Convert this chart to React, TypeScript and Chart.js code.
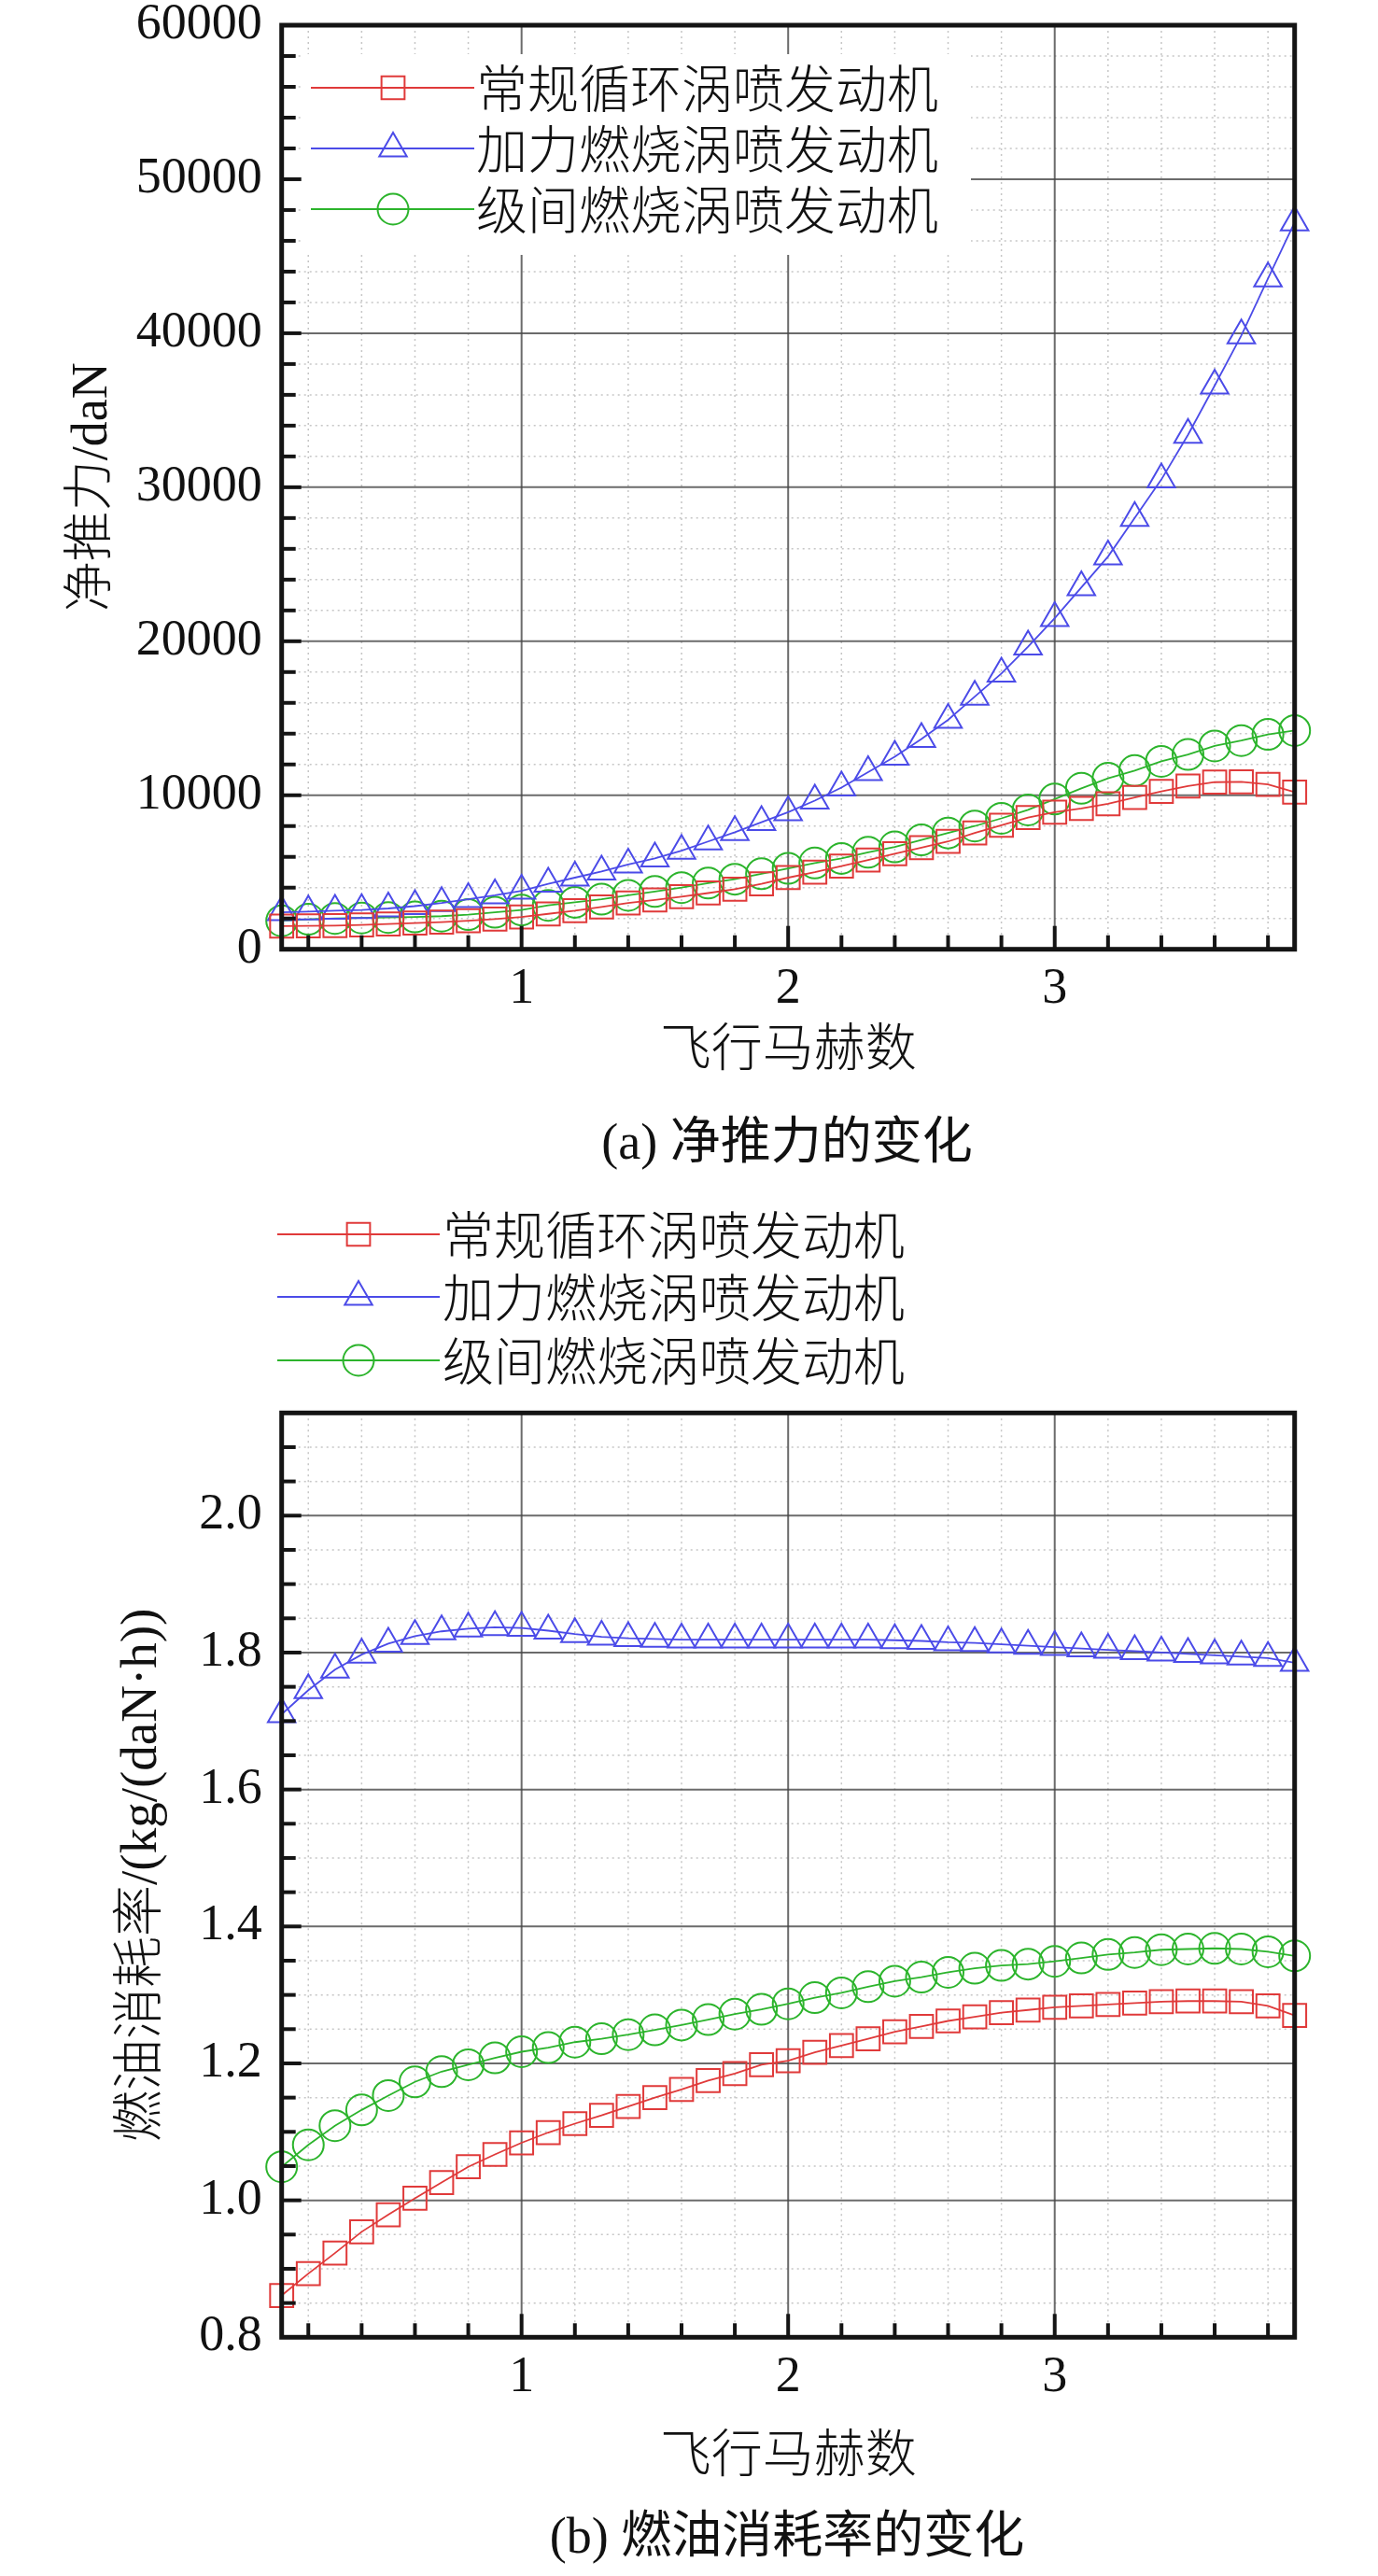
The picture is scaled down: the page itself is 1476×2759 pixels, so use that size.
import React, { useEffect, useRef } from 'react'
import { Chart, registerables } from 'chart.js'
import { drawPoint } from 'chart.js/helpers'

Chart.register(...registerables)

// ---- data ----
const machNumbers = [0.1, 0.2, 0.3, 0.4, 0.5, 0.6, 0.7, 0.8, 0.9, 1.0, 1.1, 1.2, 1.3, 1.4, 1.5, 1.6, 1.7, 1.8, 1.9, 2.0,
    2.1, 2.2, 2.3, 2.4, 2.5, 2.6, 2.7, 2.8, 2.9, 3.0, 3.1, 3.2, 3.3, 3.4, 3.5, 3.6, 3.7, 3.8, 3.9]

const engineNames = ['常规循环涡喷发动机', '加力燃烧涡喷发动机', '级间燃烧涡喷发动机']

const thrustConventional = [1500, 1520, 1540, 1580, 1640, 1700, 1760, 1850, 1960, 2100, 2300, 2500, 2750, 3000, 3200, 3420,
    3650, 3900, 4250, 4650, 5000, 5400, 5800, 6200, 6600, 7000, 7550, 8050, 8550, 8900, 9150, 9450, 9850, 10250, 10600,
    10850, 10870, 10700, 10200]
const thrustAfterburning = [2400, 2450, 2500, 2550, 2650, 2800, 3000, 3250, 3500, 3800, 4250, 4650, 5050, 5500, 5900, 6400,
    7000, 7600, 8250, 8900, 9650, 10500, 11500, 12500, 13650, 14900, 16400, 17900, 19650, 21500, 23500, 25500, 28000,
    30500, 33400, 36600, 39850, 43550, 47200]
const thrustInterstage = [1850, 1950, 2000, 2030, 2060, 2100, 2150, 2250, 2400, 2550, 2850, 3050, 3250, 3500, 3750, 4000,
    4300, 4550, 4900, 5250, 5600, 5900, 6300, 6650, 7100, 7550, 8000, 8500, 9050, 9750, 10450, 11100, 11600, 12200,
    12650, 13200, 13550, 13950, 14200]

const sfcConventional = [0.861, 0.893, 0.923, 0.954, 0.979, 1.003, 1.026, 1.049, 1.067, 1.084, 1.099, 1.112, 1.124, 1.137,
    1.150, 1.162, 1.175, 1.185, 1.198, 1.204, 1.216, 1.226, 1.236, 1.246, 1.254, 1.262, 1.268, 1.274, 1.278, 1.282,
    1.284, 1.286, 1.288, 1.290, 1.291, 1.291, 1.290, 1.284, 1.270]
const sfcAfterburning = [1.71, 1.745, 1.775, 1.797, 1.813, 1.824, 1.831, 1.835, 1.837, 1.836, 1.832, 1.827, 1.823, 1.821,
    1.82, 1.819, 1.819, 1.819, 1.819, 1.819, 1.819, 1.819, 1.819, 1.818, 1.817, 1.815, 1.814, 1.812, 1.81, 1.808,
    1.806, 1.804, 1.802, 1.8, 1.798, 1.796, 1.794, 1.792, 1.785]
const sfcInterstage = [1.049, 1.081, 1.109, 1.132, 1.153, 1.173, 1.188, 1.198, 1.208, 1.217, 1.223, 1.231, 1.236, 1.242,
    1.249, 1.256, 1.264, 1.272, 1.279, 1.287, 1.296, 1.303, 1.312, 1.320, 1.326, 1.333, 1.339, 1.343, 1.345, 1.349,
    1.354, 1.359, 1.362, 1.366, 1.367, 1.368, 1.367, 1.363, 1.357]

const machTicks = [1, 2, 3]
const thrustTicks = [0, 10000, 20000, 30000, 40000, 50000, 60000]
const sfcTicks = [0.8, 1.0, 1.2, 1.4, 1.6, 1.8, 2.0]

// ---- styles ----
const WIDTH = 1476
const PLOT_LEFT = 301.7
const PLOT_RIGHT = 1386.7
const SERIF = "'Liberation Serif', 'Noto Sans CJK SC'"
const INK = '#141414'

const seriesStyles = [
    { color: '#e03a3a', pointStyle: 'rect', radius: 17.5 },
    { color: '#4b4be8', pointStyle: 'triangle', radius: 17 },
    { color: '#2cb42c', pointStyle: 'circle', radius: 16.5 },
]

const minorValues = (min: number, max: number, step: number, major: number) => {
    const out: number[] = []
    for (let k = Math.ceil(min / step - 1e-9); k * step <= max + 1e-9; k++) {
        const v = k * step
        if (Math.abs(v - min) < 1e-6 || Math.abs(v - max) < 1e-6) continue
        if (Math.abs(v / major - Math.round(v / major)) < 1e-6) continue
        out.push(v)
    }
    return out
}

const paperPlugin = {
    id: 'paper',
    beforeDatasetsDraw(chart: any, _args: any, opts: any) {
        const { ctx, chartArea: a, scales } = chart
        const x = scales.x
        const y = scales.y
        ctx.save()
        // dotted minor grid
        ctx.strokeStyle = '#c6c6c6'
        ctx.lineWidth = 1.5
        ctx.setLineDash([2, 4])
        minorValues(x.min, x.max, opts.xMinor, 1).forEach((v) => {
            const px = x.getPixelForValue(v)
            ctx.beginPath(); ctx.moveTo(px, a.top); ctx.lineTo(px, a.bottom); ctx.stroke()
        })
        minorValues(y.min, y.max, opts.yMinor, opts.yMajor).forEach((v) => {
            const py = y.getPixelForValue(v)
            ctx.beginPath(); ctx.moveTo(a.left, py); ctx.lineTo(a.right, py); ctx.stroke()
        })
        // solid major grid
        ctx.setLineDash([])
        ctx.strokeStyle = 'rgba(70,70,70,0.8)'
        ctx.lineWidth = 2
        x.ticks.forEach((t: any) => {
            const px = x.getPixelForValue(t.value)
            ctx.beginPath(); ctx.moveTo(px, a.top); ctx.lineTo(px, a.bottom); ctx.stroke()
        })
        y.ticks.forEach((t: any) => {
            if (t.value <= y.min || t.value >= y.max) return
            const py = y.getPixelForValue(t.value)
            ctx.beginPath(); ctx.moveTo(a.left, py); ctx.lineTo(a.right, py); ctx.stroke()
        })
        if (opts.legendBox) {
            const [bx, by, bw, bh] = opts.legendBox
            ctx.fillStyle = '#ffffff'
            ctx.fillRect(bx, by, bw, bh)
        }
        ctx.restore()
    },
    afterDatasetsDraw(chart: any, _args: any, opts: any) {
        const { ctx, chartArea: a, scales } = chart
        const x = scales.x
        const y = scales.y
        ctx.save()
        ctx.strokeStyle = INK
        // inward tick marks on the left and bottom
        ctx.lineWidth = 4
        const tickLeft = (v: number, len: number) => {
            const py = y.getPixelForValue(v)
            ctx.beginPath(); ctx.moveTo(a.left, py); ctx.lineTo(a.left + len, py); ctx.stroke()
        }
        const tickBottom = (v: number, len: number) => {
            const px = x.getPixelForValue(v)
            ctx.beginPath(); ctx.moveTo(px, a.bottom); ctx.lineTo(px, a.bottom - len); ctx.stroke()
        }
        minorValues(y.min, y.max, opts.yMinor, opts.yMajor).forEach((v) => tickLeft(v, 15))
        y.ticks.forEach((t: any) => { if (t.value > y.min && t.value < y.max) tickLeft(t.value, 21) })
        minorValues(x.min, x.max, opts.xMinor, 1).forEach((v) => tickBottom(v, 15))
        x.ticks.forEach((t: any) => tickBottom(t.value, 25))
        // frame
        ctx.lineWidth = 5
        ctx.strokeRect(a.left, a.top, a.right - a.left, a.bottom - a.top)

        // legend
        const lg = opts.legend
        chart.data.datasets.forEach((ds: any, i: number) => {
            const ly = lg.rows[i]
            ctx.strokeStyle = ds.borderColor
            ctx.lineWidth = 1.8
            ctx.beginPath(); ctx.moveTo(lg.lineFrom, ly); ctx.lineTo(lg.lineTo, ly); ctx.stroke()
            ctx.fillStyle = 'rgba(0,0,0,0)'
            ctx.lineWidth = 2
            drawPoint(ctx, { pointStyle: ds.pointStyle, radius: ds.pointRadius, borderWidth: 2, rotation: 0 }, lg.markerX, ly)
            ctx.fillStyle = '#111'
            ctx.font = `300 55px 'Noto Sans CJK SC'`
            ctx.textAlign = 'left'
            ctx.textBaseline = 'middle'
            ctx.fillText(ds.label, lg.textX, ly)
        })

        // caption under the panel
        ctx.fillStyle = '#111'
        ctx.font = `54px ${SERIF}`
        ctx.textAlign = 'center'
        ctx.textBaseline = 'middle'
        ctx.fillText(opts.caption, opts.captionX, opts.captionY)
        ctx.restore()
    },
}

interface PanelProps {
    height: number
    series: number[][]
    yMin: number
    yMax: number
    yTicks: number[]
    yMajor: number
    yMinor: number
    yDecimals: number
    yTitle: string
    yTitleSize: number
    yTitlePad: number
    plotTop: number
    plotBottom: number
    xTitlePad: number
    caption: string
    captionY: number
    legend: any
    legendBox?: number[]
}

const Panel: React.FunctionComponent<PanelProps> = (p) => {
    const canvasRef = useRef<HTMLCanvasElement>(null)

    useEffect(() => {
        const ctx = canvasRef.current!.getContext('2d') as CanvasRenderingContext2D

        const datasets = p.series.map((values, i) => {
            const st = seriesStyles[i]
            return {
                label: engineNames[i],
                data: values.map((v, k) => ({ x: machNumbers[k], y: v })),
                borderColor: st.color,
                borderWidth: 1.8,
                pointStyle: st.pointStyle,
                pointRadius: st.radius,
                pointBorderColor: st.color,
                pointBorderWidth: 2,
                pointBackgroundColor: 'rgba(0,0,0,0)',
                tension: 0,
                clip: false,
            }
        })

        const chart = new Chart(ctx, {
            type: 'line',
            data: { datasets: datasets as any },
            plugins: [paperPlugin as any],
            options: {
                responsive: false,
                animation: false,
                events: [],
                layout: { padding: { left: 0, top: p.plotTop, right: WIDTH - PLOT_RIGHT, bottom: 0 } },
                plugins: {
                    legend: { display: false },
                    tooltip: { enabled: false },
                    paper: {
                        xMinor: 0.2,
                        yMinor: p.yMinor,
                        yMajor: p.yMajor,
                        legend: p.legend,
                        legendBox: p.legendBox,
                        caption: p.caption,
                        captionX: 843,
                        captionY: p.captionY,
                    },
                } as any,
                scales: {
                    x: {
                        type: 'linear',
                        min: 0.1,
                        max: 3.9,
                        grid: { display: false, drawTicks: false },
                        border: { display: false },
                        ticks: {
                            padding: 11,
                            color: '#111',
                            maxRotation: 0,
                            autoSkip: false,
                            font: { family: SERIF, size: 54 },
                            callback: (v: any) => String(v),
                        },
                        afterBuildTicks: (s: any) => { s.ticks = machTicks.map((value) => ({ value })) },
                        afterFit: (s: any) => {
                            s.height = p.height - p.plotBottom
                            s.paddingLeft = 0
                            s.paddingRight = 0
                        },
                        title: {
                            display: true,
                            text: '飞行马赫数',
                            color: '#111',
                            font: { family: SERIF, size: 55, weight: '300' as any },
                            padding: { top: 0, bottom: p.xTitlePad },
                        },
                    },
                    y: {
                        type: 'linear',
                        min: p.yMin,
                        max: p.yMax,
                        grid: { display: false, drawTicks: false },
                        border: { display: false },
                        ticks: {
                            padding: 21,
                            color: '#111',
                            autoSkip: false,
                            font: { family: SERIF, size: 54 },
                            callback: (v: any) => Number(v).toFixed(p.yDecimals),
                        },
                        afterBuildTicks: (s: any) => { s.ticks = p.yTicks.map((value) => ({ value })) },
                        afterFit: (s: any) => {
                            s.width = PLOT_LEFT
                            s.paddingTop = 0
                            s.paddingBottom = 0
                        },
                        title: {
                            display: true,
                            text: p.yTitle,
                            color: '#111',
                            font: { family: SERIF, size: p.yTitleSize, weight: '300' as any },
                            padding: { top: p.yTitlePad, bottom: 0 },
                        },
                    },
                },
            },
        })

        return () => {
            chart.destroy()
        }
    }, [])

    return <canvas ref={canvasRef} width={WIDTH} height={p.height} style={{ display: 'block' }}></canvas>
}

const App: React.FunctionComponent = () => {
    useEffect(() => {
        document.body.style.margin = '0'
        document.body.style.background = '#ffffff'
    }, [])

    return (
        <div style={{ width: WIDTH, height: 2759, background: '#fff' }}>
            <Panel
                height={1290}
                series={[thrustConventional, thrustAfterburning, thrustInterstage]}
                yMin={0}
                yMax={60000}
                yTicks={thrustTicks}
                yMajor={10000}
                yMinor={2000}
                yDecimals={0}
                yTitle="净推力/daN"
                yTitleSize={54}
                yTitlePad={67}
                plotTop={27}
                plotBottom={1016.7}
                xTitlePad={130}
                caption="(a) 净推力的变化"
                captionY={1227}
                legend={{ rows: [94, 159, 224], lineFrom: 333, lineTo: 508, markerX: 421, textX: 510 }}
                legendBox={[322, 58, 718, 215]}
            />
            <Panel
                height={1469}
                series={[sfcConventional, sfcAfterburning, sfcInterstage]}
                yMin={0.8}
                yMax={2.15}
                yTicks={sfcTicks}
                yMajor={0.2}
                yMinor={0.05}
                yDecimals={1}
                yTitle="燃油消耗率/(kg/(daN·h))"
                yTitleSize={55}
                yTitlePad={120}
                plotTop={223.3}
                plotBottom={1213.3}
                xTitlePad={93}
                caption="(b) 燃油消耗率的变化"
                captionY={1430}
                legend={{ rows: [32, 99, 167], lineFrom: 297, lineTo: 471, markerX: 384, textX: 474 }}
            />
        </div>
    )
}

export default App
